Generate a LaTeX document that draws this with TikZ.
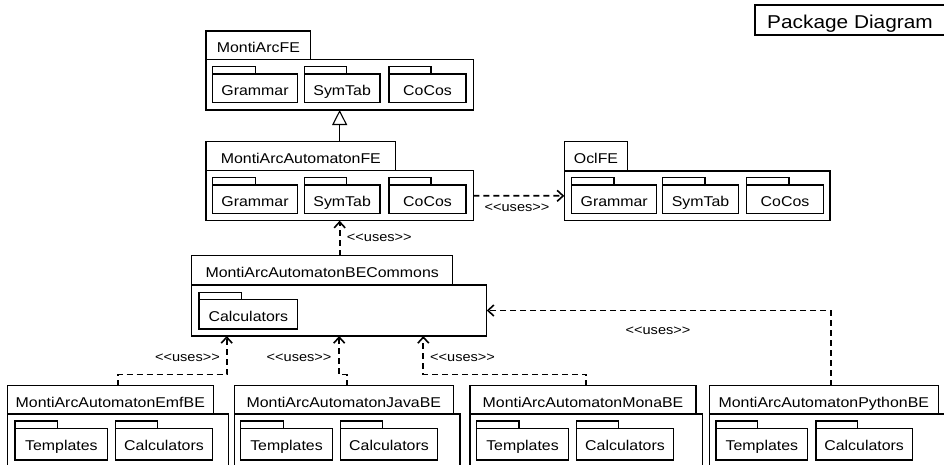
\documentclass[tikz,border=0pt]{standalone}
\usepackage{fontspec}
\setmainfont{Liberation Sans}[FakeStretch=1.12, Ligatures=TeXOff]
\usetikzlibrary{arrows.meta}
\tikzset{
 box/.style={draw, line width=1.1pt, inner sep=0pt, outer sep=0pt, anchor=north west},
 pname/.style={inner sep=0pt, anchor=base, font=\fontsize{14.2}{16}\selectfont},
 iname/.style={inner sep=0pt, anchor=base, font=\fontsize{14.2}{16}\selectfont},
 uses/.style={draw, line width=1.8pt, dash pattern=on 6pt off 4pt,
   -{Straight Barb[length=6pt,width=11pt,line width=1.6pt]}},
 usesl/.style={inner sep=0pt, anchor=base, font=\fontsize{13}{15}\selectfont},
 inherit/.style={draw, line width=1.1pt, -{Triangle[length=15pt,width=15pt,fill=white,line width=1.1pt]}},
}
\newcommand\mypkg[8]{%
 \node[box, minimum width=#4pt, minimum height=#5pt] (#1-tab) at (#2,#3) {};
 \node[box, minimum width=#6pt, minimum height=#7pt] (#1-body) at (#1-tab.south west) {};
 \node[pname] (#1-lab) at ([yshift=-21.3pt]#1-tab.north) {#8};
}
\newcommand\myinner[7]{%
 \node[box, minimum width=#4pt, minimum height=7.3pt] (#1-tab) at (#2,#3) {};
 \node[box, minimum width=#5pt, minimum height=#6pt] (#1-body) at (#1-tab.south west) {};
 \node[iname] (#1-lab) at ([yshift=-21.8pt]#1-body.north) {#7};
}
\newcommand\usestext{<{}<uses>{}>}
\begin{document}
\begin{tikzpicture}[x=1pt,y=-1pt]
\useasboundingbox (0,0) rectangle (944,464);
\fill[white] (0,0) rectangle (944,464);
\clip (0,0) rectangle (944,464);

% title
\node[box, minimum width=200pt, minimum height=30pt] (title) at (755,5) {};
\node[inner sep=0pt, anchor=base west, font=\fontsize{18.6}{20}\selectfont] (title-lab)
  at ([xshift=12pt,yshift=-23.3pt]title.north west) {Package Diagram};

% MontiArcFE
\mypkg{mafe}{206}{31}{104.7}{28.3}{267.3}{50.7}{MontiArcFE}
\myinner{mafe-g}{212.7}{66.7}{43}{84.6}{28.7}{Grammar}
\myinner{mafe-s}{304.3}{66.7}{42.4}{75.7}{28.7}{SymTab}
\myinner{mafe-c}{389}{66.7}{42}{77}{28.7}{CoCos}

% MontiArcAutomatonFE
\mypkg{maafe}{206}{141.7}{189.7}{29}{267.3}{50}{MontiArcAutomatonFE}
\myinner{maafe-g}{212.7}{177.7}{43}{84.6}{28.3}{Grammar}
\myinner{maafe-s}{304.3}{177.7}{42.4}{75.7}{28.3}{SymTab}
\myinner{maafe-c}{389}{177.7}{42}{77}{28.3}{CoCos}

% OclFE
\mypkg{ocl}{564.3}{141.7}{63.4}{29.3}{265.7}{49.7}{OclFE}
\myinner{ocl-g}{571.7}{177.7}{42.3}{85}{28.3}{Grammar}
\myinner{ocl-s}{662.7}{177.7}{42.3}{75.6}{28.3}{SymTab}
\myinner{ocl-c}{746.7}{177.7}{42.3}{76.6}{28.3}{CoCos}

% BECommons
\mypkg{be}{191.7}{255.7}{261}{29.3}{295}{51}{MontiArcAutomatonBECommons}
\myinner{be-c}{199}{292.3}{42.7}{98.7}{29.4}{Calculators}

% bottom packages
\mypkg{emf}{7.3}{385.7}{206}{28.3}{221}{70}{MontiArcAutomatonEmfBE}
\myinner{emf-t}{15}{421}{42.3}{92.7}{31.7}{Templates}
\myinner{emf-c}{115.7}{421}{41.6}{96.6}{31.7}{Calculators}

\mypkg{java}{234.3}{385.7}{219}{28.3}{225.7}{70}{MontiArcAutomatonJavaBE}
\myinner{java-t}{240.7}{421}{42.6}{91.6}{31.7}{Templates}
\myinner{java-c}{340.7}{421}{42}{96.6}{31.7}{Calculators}

\mypkg{mona}{470}{385.7}{226}{28.3}{232.7}{70}{MontiArcAutomatonMonaBE}
\myinner{mona-t}{476.7}{421}{42.3}{91.6}{31.7}{Templates}
\myinner{mona-c}{576.7}{421}{41.6}{96.6}{31.7}{Calculators}

\mypkg{py}{709.3}{385.7}{229}{28.3}{243.4}{70}{MontiArcAutomatonPythonBE}
\myinner{py-t}{716}{421}{41.7}{91.7}{31.7}{Templates}
\myinner{py-c}{816}{421}{41.7}{96.3}{31.7}{Calculators}

% connectors
\draw[inherit] (maafe-tab.north -| mafe-body.south) -- (mafe-body.south);
\draw[uses] (be-tab.north -| maafe-body.south) -- (maafe-body.south);
\draw[uses] (maafe-body.east) -- (ocl-body.west);
\draw[uses] (py-tab.north -| py-body.south) |- (be-body.east);

\coordinate (r1) at (226.7,374.5);
\coordinate (r2) at (339.2,374.5);
\coordinate (r3) at (423.3,374.5);
\draw[uses] (emf-tab.north -| emf-body.south) |- (r1) -- (be-body.south -| r1);
\draw[uses] (java-tab.north -| java-body.south) |- (r2) -- (be-body.south -| r2);
\draw[uses] (mona-tab.north -| mona-body.south) |- (r3) -- (be-body.south -| r3);

% labels
\node[usesl] (l-ocl) at (517,211) {\usestext};
\node[usesl, anchor=base west] (l-fe) at (346.7,241.7) {\usestext};
\node[usesl, anchor=base east] (l-emf) at (220,361.7) {\usestext};
\node[usesl, anchor=base east] (l-java) at (331.7,361.7) {\usestext};
\node[usesl, anchor=base west] (l-mona) at (430,361.7) {\usestext};
\node[usesl] (l-py) at (658,334.3) {\usestext};
\end{tikzpicture}
\end{document}
